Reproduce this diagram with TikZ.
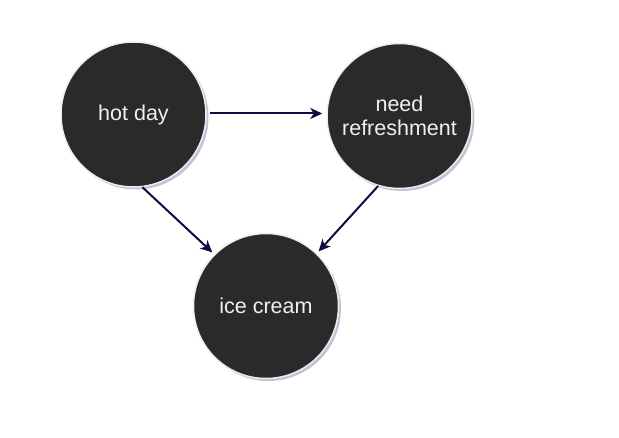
\documentclass[tikz,border=0pt]{standalone}
\usepackage{fontspec}
\setmainfont{Liberation Sans}
\usetikzlibrary{arrows.meta,shadows}
\definecolor{nodefill}{HTML}{2A2A2A}
\definecolor{nodeline}{HTML}{EDEDED}
\definecolor{edgecol}{HTML}{0C0C40}
\definecolor{shadowcol}{HTML}{6A6A9C}
\begin{document}
\begin{tikzpicture}[x=1pt,y=-1pt,
  circ/.style={circle, fill=nodefill, draw=nodeline, line width=1.5pt,
    minimum size=145pt, inner sep=0pt, text=white!94!black,
    font=\fontsize{21.5}{24.5}\selectfont, align=center,
    drop shadow={shadow xshift=2.5pt, shadow yshift=-2.5pt, fill=shadowcol, opacity=0.4}},
  edge/.style={draw=edgecol, line width=2pt,
    -{Stealth[length=12pt,width=11pt,inset=3.5pt]}}]
\useasboundingbox (0,0) rectangle (619,438);
\node[circ] (hot) at (133.5,114.5) {hot day};
\node[circ] (need) at (399.5,116) {need\\refreshment};
\node[circ] (ice) at (266,306) {ice cream};
\draw[edge, shorten <=3pt, shorten >=4pt] (hot.east |- 0,113.5) coordinate (h1) (h1) -- (h1 -| need.west);
\draw[edge, shorten >=2.5pt] (hot.-83) -- (ice.135.5);
\draw[edge, shorten >=2.5pt] (need.-107) -- (ice.46);
\end{tikzpicture}
\end{document}
